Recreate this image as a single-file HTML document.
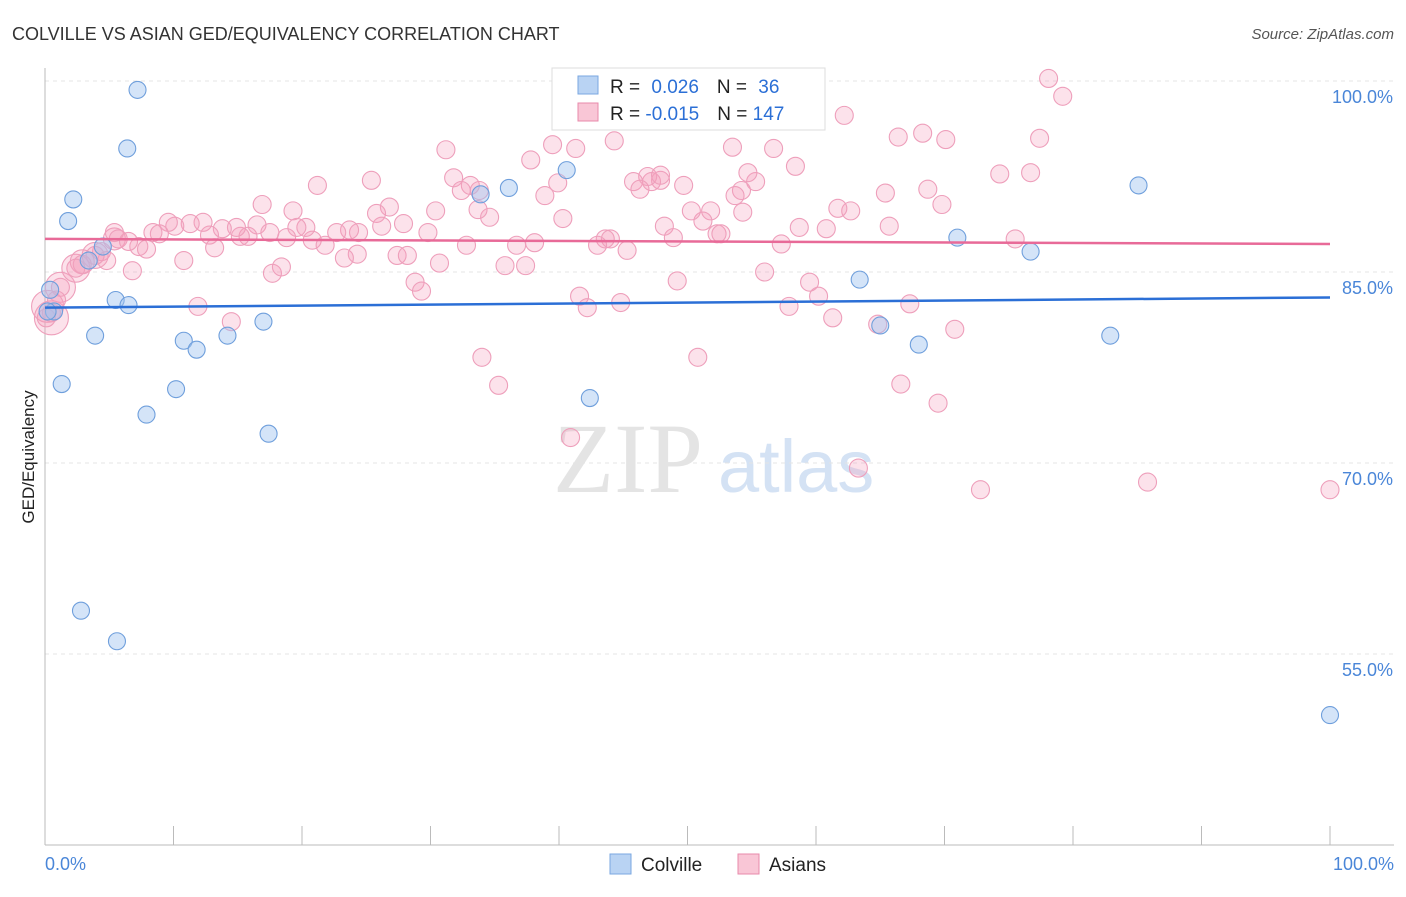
<!DOCTYPE html>
<html><head><meta charset="utf-8"><style>
body{margin:0;background:#fff;font-family:"Liberation Sans",sans-serif;}
svg text{font-family:"Liberation Sans",sans-serif;}
</style></head><body>
<svg id="chart" width="1406" height="892" viewBox="0 0 1406 892">
<text x="12" y="40" font-size="18" fill="#333">COLVILLE VS ASIAN GED/EQUIVALENCY CORRELATION CHART</text>
<text x="1394" y="39" font-size="15" fill="#555" text-anchor="end" font-style="italic">Source: ZipAtlas.com</text>
<g><text x="553" y="492" font-size="100" fill="#e4e4e4" style="font-family:'Liberation Serif',serif">ZIP</text><text x="718" y="492" font-size="74" fill="#d4e2f4">atlas</text></g>
<g id="grid"></g><g id="axes"></g><g id="pts"></g><g id="trends"></g>
<text transform="translate(34,457) rotate(-90)" font-size="17" fill="#222" text-anchor="middle">GED/Equivalency</text>
<g>
<rect x="552" y="68" width="273" height="62" fill="#fff" stroke="#ddd"/>
<rect x="578" y="76" width="20" height="18" fill="#b9d3f3" stroke="#7aa7e0"/>
<rect x="578" y="103" width="20" height="18" fill="#f9c6d6" stroke="#e88aab"/>
<text x="610" y="93" font-size="19" fill="#222">R = <tspan fill="#2b6fd6" dx="6">0.026</tspan><tspan fill="#222" dx="18">N = </tspan><tspan fill="#2b6fd6" dx="6">36</tspan></text>
<text x="610" y="120" font-size="19" fill="#222">R = <tspan fill="#2b6fd6">-0.015</tspan><tspan fill="#222" dx="18">N = </tspan><tspan fill="#2b6fd6">147</tspan></text>
</g>
<g>
<rect x="610" y="854" width="21" height="20" fill="#b9d3f3" stroke="#7aa7e0"/>
<text x="641" y="871" font-size="19" fill="#222">Colville</text>
<rect x="738" y="854" width="21" height="20" fill="#f9c6d6" stroke="#e88aab"/>
<text x="769" y="871" font-size="19" fill="#222">Asians</text>
</g>
</svg>
<script>
const yTicks=[100,85,70,55];
const yTickLabels=["100.0%","85.0%","70.0%","55.0%"];
const xTickLabels=["0.0%","100.0%"];
const blueX=[7.2,6.4,2.2,1.8,0.7,1.3,3.9,5.5,6.5,7.9,10.2,10.8,11.8,14.2,17.0,17.4,2.8,5.6,40.6,33.9,36.1,42.4,53.5,63.4,65.0,68.0,71.0,76.7,82.9,85.1,100,3.4,4.5,0.4,0.2];
const blueY=[99.3,94.7,90.7,89.0,81.9,76.2,80.0,82.8,82.4,73.8,75.8,79.6,78.9,80.0,81.1,72.3,58.4,56.0,93.0,91.1,91.6,75.1,100.1,84.4,80.8,79.3,87.7,86.6,80.0,91.8,50.2,85.9,87.0,83.6,81.9];
const pinkX=[78.1,79.2,62.2,56.2,53.5,56.7,58.4,66.4,68.3,70.1,77.4,74.3,68.7,65.4,69.8,65.7,62.7,61.7,60.8,58.7,57.3,54.2,53.7,55.3,54.7,54.3,51.8,51.2,52.3,52.6,50.3,49.7,47.9,47.2,46.9,45.8,46.3,47.9,48.2,48.9,49.2,50.8,44.3,41.3,39.5,37.8,39.9,38.9,40.3,38.1,36.7,35.8,37.4,34.6,33.7,33.1,31.8,31.2,32.4,33.8,30.4,29.8,32.8,30.7,28.8,29.3,25.4,26.8,25.8,26.2,27.9,27.4,28.2,24.4,23.7,24.3,23.3,22.7,21.8,20.8,20.3,19.3,19.6,18.8,16.9,16.5,17.5,15.8,15.2,14.9,13.8,12.8,13.2,12.3,11.3,10.1,9.6,8.9,8.4,10.8,6.8,7.3,7.9,5.4,5.7,6.5,4.8,4.4,3.9,2.9,2.4,1.2,0.9,0.5,0.1,11.9,14.5,17.7,18.4,21.2,34.0,35.3,40.9,41.6,42.2,44.8,43.6,44.0,45.3,43.0,56.0,57.9,59.5,60.2,61.3,64.8,67.3,70.8,66.6,69.5,63.3,72.8,85.8,100,76.7,75.5];
const pinkY=[100.2,98.8,97.3,97.5,94.8,94.7,93.3,95.6,95.9,95.4,95.5,92.7,91.5,91.2,90.3,88.6,89.8,90.0,88.4,88.5,87.2,91.4,91.0,92.1,92.8,89.7,89.8,89.0,88.0,88.0,89.8,91.8,92.2,92.1,92.5,92.1,91.5,92.6,88.6,87.7,84.3,78.3,95.3,94.7,95.0,93.8,92.0,91.0,89.2,87.3,87.1,85.5,85.5,89.3,89.9,91.8,92.4,94.6,91.4,91.4,89.8,88.1,87.1,85.7,84.2,83.5,92.2,90.1,89.6,88.6,88.8,86.3,86.3,88.1,88.3,86.4,86.1,88.1,87.1,87.5,88.5,89.8,88.5,87.7,90.3,88.7,88.1,87.8,87.8,88.5,88.4,87.9,86.9,88.9,88.8,88.6,88.9,88.0,88.1,85.9,85.1,87.0,86.8,88.1,87.6,87.4,85.9,86.6,86.3,85.6,85.3,83.8,82.8,81.8,81.4,82.3,81.1,84.9,85.4,91.8,78.3,76.1,72.0,83.1,82.2,82.6,87.6,87.6,86.7,87.1,85.0,82.3,84.2,83.1,81.4,80.9,82.5,80.5,76.2,74.7,69.6,67.9,68.5,67.9,92.8,87.6];
const bigPinkX=[0.5,1.2,2.4,3.9,0.2,2.9,5.4];
const bigPinkY=[81.4,83.8,85.3,86.3,82.3,85.8,87.6];
const bigPinkR=[17,15,14,13,16,12,11];
const blueTrend=[82.2,83.0];
const pinkTrend=[87.6,87.2];
const NS="http://www.w3.org/2000/svg";
const X=v=>45+v*12.85, Y=v=>81+(100-v)*12.733;
function mk(tag,attrs,parent){const e=document.createElementNS(NS,tag);for(const k in attrs)e.setAttribute(k,attrs[k]);parent.appendChild(e);return e;}
const grid=document.getElementById('grid'),axes=document.getElementById('axes'),pts=document.getElementById('pts'),tr=document.getElementById('trends');
yTicks.forEach((t,i)=>{
 const l=mk('line',{x1:45,x2:1394,y1:Y(t),y2:Y(t),stroke:'#e4e4e4','stroke-dasharray':'4,4'},grid);
 
 
 const tx=mk('text',{x:1393,y:Y(t)+22,'font-size':18,fill:'#4a86d8','text-anchor':'end'},grid);
 tx.textContent=yTickLabels[i];
 
 
});
let a=mk('line',{x1:45,x2:45,y1:68,y2:845,stroke:'#bbb'},axes);


a=mk('line',{x1:45,x2:1394,y1:845,y2:845,stroke:'#bbb'},axes);


for(let i=0;i<=10;i++){const t=mk('line',{x1:X(i*10),x2:X(i*10),y1:826,y2:845,stroke:'#bbb'},axes);
 
 }
[[0,'start',45],[1,'end',1394]].forEach(([i,an,x])=>{const t=mk('text',{x:x,y:870,'font-size':18,fill:'#4a86d8','text-anchor':an},axes);t.textContent=xTickLabels[i];
 
 });
bigPinkX.forEach((x,i)=>{const c=mk('circle',{cx:X(x),cy:Y(bigPinkY[i]),r:bigPinkR[i],fill:'rgba(245,160,190,0.3)',stroke:'#ee9fbb','stroke-width':1.1},pts);
 
 });
pinkX.forEach((x,i)=>{const c=mk('circle',{cx:X(x),cy:Y(pinkY[i]),r:9,fill:'rgba(245,160,190,0.3)',stroke:'#ee9fbb','stroke-width':1.1},pts);
 
 });
blueX.forEach((x,i)=>{const c=mk('circle',{cx:X(x),cy:Y(blueY[i]),r:8.5,fill:'rgba(160,196,240,0.45)',stroke:'#6f9fdc','stroke-width':1.1},pts);
 
 });
let t1=mk('line',{x1:X(0),x2:X(100),y1:Y(blueTrend[0]),y2:Y(blueTrend[1]),stroke:'#2b6fd6','stroke-width':2.5},tr);


let t2=mk('line',{x1:X(0),x2:X(100),y1:Y(pinkTrend[0]),y2:Y(pinkTrend[1]),stroke:'#e86a98','stroke-width':2.5},tr);


</script>
</body></html>
